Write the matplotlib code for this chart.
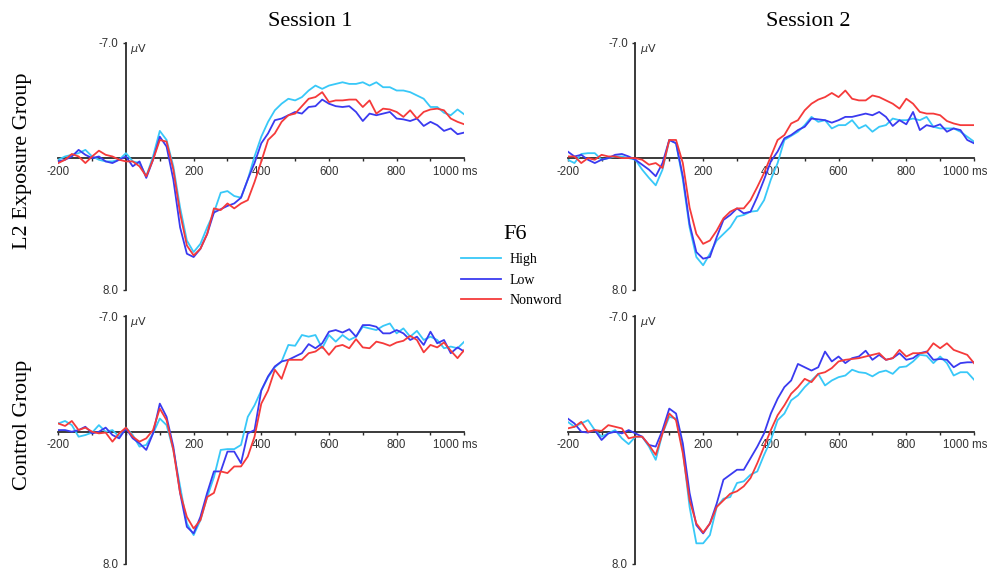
import numpy as np
import matplotlib.pyplot as plt

# time axis, ms (one value every 20 ms)
time_ms = np.arange(-200, 1001, 20)

# Session 1, L2 Exposure Group (uV, negative up)
s1_l2_high = [0.1, -0.1, -0.2, -0.3, -0.5, -0.1, 0.1, 0.2, 0.2, 0.1, -0.3, 0.2, 0.3, 1.1, -0.1, -1.65, -1.1, 0.5, 3.0, 5.0,
              5.7, 5.2, 4.2, 3.3, 2.1, 2.0, 2.3, 2.4, 1.3, -0.1, -1.3, -2.2, -2.9, -3.3, -3.6, -3.5, -3.7, -4.1, -4.4, -4.2,
              -4.4, -4.5, -4.6, -4.5, -4.5, -4.6, -4.4, -4.6, -4.3, -4.3, -4.1, -4.1, -4.0, -3.8, -3.6, -3.1, -3.1, -2.75, -2.6, -2.95,
              -2.65]
s1_l2_low = [0.2, 0.1, -0.1, -0.5, -0.2, 0.0, -0.1, 0.2, 0.3, 0.1, -0.1, 0.5, 0.2, 1.2, 0.1, -1.3, -0.7, 1.3, 4.2, 5.8,
             6.0, 5.5, 4.6, 3.3, 3.1, 2.9, 2.75, 2.4, 1.3, 0.3, -0.9, -1.5, -2.3, -2.4, -2.6, -2.8, -2.7, -3.1, -3.15, -3.55,
             -3.3, -3.15, -3.1, -3.15, -2.8, -2.25, -2.7, -2.6, -2.7, -2.8, -2.4, -2.35, -2.25, -2.4, -1.95, -2.2, -2.0, -1.65, -1.8, -1.45,
             -1.55]
s1_l2_nonword = [0.3, 0.1, -0.25, -0.1, 0.3, -0.1, -0.45, -0.2, -0.1, 0.1, 0.2, 0.2, 0.5, 1.1, 0.1, -1.1, -1.0, 0.7, 3.35, 5.3,
                 5.9, 5.5, 4.6, 3.05, 3.15, 2.75, 3.05, 2.75, 2.55, 1.45, 0.2, -1.1, -1.5, -2.2, -2.6, -2.7, -3.15, -3.6, -3.7, -4.0,
                 -3.4, -3.5, -3.5, -3.55, -3.55, -3.1, -3.5, -2.7, -3.0, -2.95, -2.8, -2.5, -2.9, -2.4, -2.8, -2.95, -3.0, -2.9, -2.4, -2.2,
                 -2.05]

# Session 2, L2 Exposure Group
s2_l2_high = [0.1, 0.3, -0.25, -0.3, -0.3, 0.1, 0.0, -0.1, -0.1, 0.0, 0.1, 0.7, 1.2, 1.65, 0.7, -1.1, -0.9, 1.3, 4.2, 6.0,
              6.5, 5.8, 5.0, 4.6, 4.2, 3.55, 3.45, 3.25, 3.2, 2.55, 1.3, 0.3, -1.1, -1.35, -1.6, -2.0, -2.5, -2.2, -2.3, -1.8,
              -2.0, -2.0, -2.3, -1.8, -2.0, -1.6, -1.9, -2.0, -2.4, -2.3, -2.3, -2.4, -2.3, -2.5, -1.9, -1.8, -1.8, -1.8, -1.6, -1.3,
              -1.0]
s2_l2_low = [-0.4, -0.1, -0.2, 0.1, 0.3, 0.1, 0.0, -0.2, -0.25, -0.1, 0.1, 0.4, 0.7, 1.1, 0.3, -1.1, -0.9, 1.1, 4.0, 5.7,
             6.1, 6.0, 4.8, 3.75, 3.45, 3.05, 3.35, 3.25, 2.35, 1.3, 0.2, -0.4, -1.2, -1.4, -1.7, -1.9, -2.4, -2.35, -2.3, -2.15,
             -2.3, -2.5, -2.5, -2.6, -2.7, -2.6, -2.8, -2.5, -1.95, -2.3, -2.05, -2.8, -1.7, -2.0, -1.9, -2.05, -1.6, -1.8, -1.7, -1.1,
             -0.9]
s2_l2_nonword = [-0.1, -0.1, 0.3, 0.0, 0.1, -0.2, -0.1, -0.1, 0.0, 0.0, 0.0, 0.1, 0.4, 0.3, 0.6, -1.1, -1.1, 0.3, 3.0, 4.6,
                 5.2, 5.0, 4.4, 3.65, 3.25, 3.05, 3.05, 2.55, 1.75, 0.9, -0.1, -1.1, -1.4, -2.1, -2.3, -2.9, -3.3, -3.55, -3.7, -3.95,
                 -3.7, -4.1, -3.6, -3.5, -3.5, -3.8, -3.7, -3.5, -3.3, -3.0, -3.6, -3.3, -2.8, -2.7, -2.7, -2.6, -2.25, -2.1, -2.0, -2.0,
                 -2.0]

# Session 1, Control Group
s1_ctrl_high = [-0.5, -0.65, -0.4, 0.3, 0.2, 0.05, -0.4, 0.0, -0.1, 0.3, -0.25, 0.2, 0.9, 0.8, 0.1, -0.8, -0.4, 1.1, 3.3, 5.55,
                6.25, 5.35, 3.95, 2.75, 1.1, 1.05, 1.05, 0.8, -0.9, -1.6, -2.5, -3.3, -3.9, -4.25, -5.25, -5.2, -5.85, -5.75, -5.85, -5.05,
                -5.85, -5.45, -5.85, -5.55, -5.75, -6.35, -6.25, -6.15, -6.4, -6.55, -5.95, -6.25, -5.75, -6.1, -5.55, -5.75, -5.55, -5.05, -5.15, -5.05,
                -5.45]
s1_ctrl_low = [-0.1, -0.1, 0.0, -0.1, -0.3, 0.1, 0.0, -0.25, 0.2, 0.4, -0.2, 0.4, 0.7, 1.1, 0.1, -1.7, -0.9, 0.9, 3.7, 5.75,
               6.15, 5.15, 3.7, 2.4, 2.4, 1.2, 1.2, 1.9, 0.1, -0.1, -2.5, -3.35, -3.95, -4.25, -4.35, -4.55, -4.75, -5.3, -5.05, -5.35,
               -6.05, -6.15, -6.0, -6.2, -5.75, -6.45, -6.45, -6.35, -5.95, -5.95, -6.15, -5.95, -5.55, -5.75, -5.25, -6.05, -5.35, -5.55, -4.75, -5.1,
               -4.85]
s1_ctrl_nonword = [-0.5, -0.35, -0.65, -0.1, -0.25, 0.0, 0.1, 0.05, 0.6, 0.1, -0.25, 0.3, 0.6, 0.4, -0.1, -1.4, -0.7, 1.1, 3.7, 5.15,
                   5.85, 5.35, 3.95, 3.7, 2.4, 2.5, 2.1, 2.1, 1.5, 0.3, -1.7, -2.5, -3.75, -3.2, -4.35, -4.35, -4.35, -4.75, -4.85, -5.15,
                   -4.65, -5.15, -5.25, -5.05, -5.6, -5.1, -5.05, -5.45, -5.35, -5.2, -5.4, -5.5, -5.8, -5.55, -4.8, -5.25, -5.1, -5.4, -4.9, -4.45,
                   -4.95]

# Session 2, Control Group
s2_ctrl_high = [-0.6, -0.3, -0.5, -0.7, -0.1, 0.3, 0.1, -0.1, 0.4, 0.75, 0.3, 0.3, 0.9, 1.7, 0.1, -0.9, -0.8, 1.1, 4.55, 6.75,
                6.75, 6.25, 4.55, 4.05, 3.95, 3.1, 3.0, 2.6, 2.4, 1.4, 0.5, -0.7, -1.1, -1.9, -2.2, -2.7, -3.1, -3.5, -2.8, -3.1,
                -3.3, -3.4, -3.75, -3.6, -3.55, -3.35, -3.6, -3.7, -3.5, -3.9, -3.95, -4.25, -4.65, -4.6, -4.15, -4.55, -4.15, -3.4, -3.6, -3.6,
                -3.15]
s2_ctrl_low = [-0.8, -0.5, 0.0, 0.05, -0.1, 0.5, 0.1, 0.0, 0.1, -0.1, 0.1, 0.3, 0.8, 0.9, -0.1, -1.4, -1.1, 0.7, 3.7, 5.65,
               6.15, 5.55, 4.35, 2.9, 2.6, 2.3, 2.3, 1.6, 0.9, 0.1, -1.1, -2.0, -2.7, -3.1, -4.1, -3.9, -3.7, -3.9, -4.85, -4.25,
               -4.55, -4.15, -4.45, -4.55, -4.9, -4.35, -4.65, -4.35, -4.45, -4.75, -4.35, -4.45, -4.75, -4.85, -4.35, -4.4, -4.35, -3.9, -4.15, -4.2,
               -4.2]
s2_ctrl_nonword = [-0.2, -0.3, -0.6, 0.0, -0.1, -0.05, -0.4, -0.3, -0.2, 0.4, 0.3, 0.3, 0.8, 1.4, 0.1, -1.1, -0.7, 1.3, 4.15, 5.55,
                   6.1, 5.55, 4.55, 4.15, 3.75, 3.6, 3.3, 2.8, 1.9, 0.9, -0.1, -1.0, -1.6, -2.3, -2.7, -3.2, -3.0, -3.5, -3.6, -3.85,
                   -4.25, -4.35, -4.4, -4.45, -4.55, -4.65, -4.75, -4.35, -4.45, -4.95, -4.55, -4.75, -4.75, -4.8, -5.35, -5.05, -5.35, -4.95, -4.8, -4.65,
                   -4.15]

conditions = ["High", "Low", "Nonword"]
colors = ["#38c8f8", "#3a3af0", "#f53a3a"]
x_labels = {-200: "-200", 200: "200", 400: "400", 600: "600", 800: "800"}

W, H = 995, 572
fig = plt.figure(figsize=(W / 100, H / 100), dpi=100)

tick_font = "Liberation Sans"
title_font = "Liberation Serif"
axis_col = "#2b2b2b"
tick_size = 8.3


def px_axes(x0, x1, ytop, ybot):
    return fig.add_axes([x0 / W, 1 - ybot / H, (x1 - x0) / W, (ybot - ytop) / H])


def erp_panel(ax, series):
    lines = []
    for vals, c, name in zip(series, colors, conditions):
        assert len(vals) == len(time_ms)
        ln, = ax.plot(time_ms, vals, color=c, lw=1.3, label=name, zorder=3)
        lines.append(ln)
    ax.set_xlim(-200, 1000)
    ax.set_ylim(8.0, -7.0)
    ax.patch.set_alpha(0)
    for s in ["top", "right"]:
        ax.spines[s].set_visible(False)
    ax.spines["left"].set_position(("data", 0))
    ax.spines["bottom"].set_position(("data", 0))
    for s in ["left", "bottom"]:
        ax.spines[s].set_color(axis_col)
        ax.spines[s].set_linewidth(1.3)
        ax.spines[s].set_zorder(2)
    ticks = np.arange(-200, 1001, 100)
    ax.set_xticks(ticks)
    ax.set_xticklabels([x_labels.get(int(t), "") for t in ticks],
                       fontfamily=tick_font, fontsize=tick_size, color="#333333")
    ax.set_yticks([-7.0, 8.0])
    ax.set_yticklabels(["-7.0", "8.0"], fontfamily=tick_font, fontsize=tick_size, color="#333333")
    ax.tick_params(axis="x", direction="out", length=2.5, width=1, color=axis_col, pad=3)
    ax.tick_params(axis="y", direction="out", length=2.5, width=1, color=axis_col, pad=3)
    # last tick carries the unit
    ax.annotate("1000 ms", xy=(1000, 0), xytext=(9.5, -5.5), textcoords="offset points",
                ha="right", va="top", fontfamily=tick_font, fontsize=tick_size, color="#333333")
    ax.annotate(r"$\mu$V", xy=(0, -7.0), xytext=(3, -4.5), textcoords="offset points",
                ha="left", va="center", fontsize=8, color="#333333")
    return lines


ax_tl = px_axes(58.3, 464.3, 42.7, 290)
ax_tr = px_axes(567.7, 974, 42.7, 290)
ax_bl = px_axes(58.3, 464.3, 316, 564)
ax_br = px_axes(567.7, 974, 316, 564)

handles = erp_panel(ax_tl, [s1_l2_high, s1_l2_low, s1_l2_nonword])
erp_panel(ax_tr, [s2_l2_high, s2_l2_low, s2_l2_nonword])
erp_panel(ax_bl, [s1_ctrl_high, s1_ctrl_low, s1_ctrl_nonword])
erp_panel(ax_br, [s2_ctrl_high, s2_ctrl_low, s2_ctrl_nonword])

# column and row titles
fig.text(310 / W, 1 - 21 / H, "Session 1", ha="center", va="center", fontfamily=title_font, fontsize=16)
fig.text(808 / W, 1 - 21 / H, "Session 2", ha="center", va="center", fontfamily=title_font, fontsize=16)
fig.text(23 / W, 1 - 161 / H, "L2 Exposure Group", ha="center", va="center", rotation=90,
         fontfamily=title_font, fontsize=16)
fig.text(23 / W, 1 - 425 / H, "Control Group", ha="center", va="center", rotation=90,
         fontfamily=title_font, fontsize=16)

# legend
fig.text(515 / W, 1 - 234 / H, "F6", ha="center", va="center", fontfamily=title_font, fontsize=16)
leg = fig.legend(handles=handles, loc="upper left", bbox_to_anchor=(461 / W, 1 - 253 / H),
                 frameon=False, prop={"family": title_font, "size": 10},
                 handlelength=2.9, handletextpad=0.6, labelspacing=0.55, borderaxespad=0, borderpad=0)

fig.savefig("out.png", dpi=100)
